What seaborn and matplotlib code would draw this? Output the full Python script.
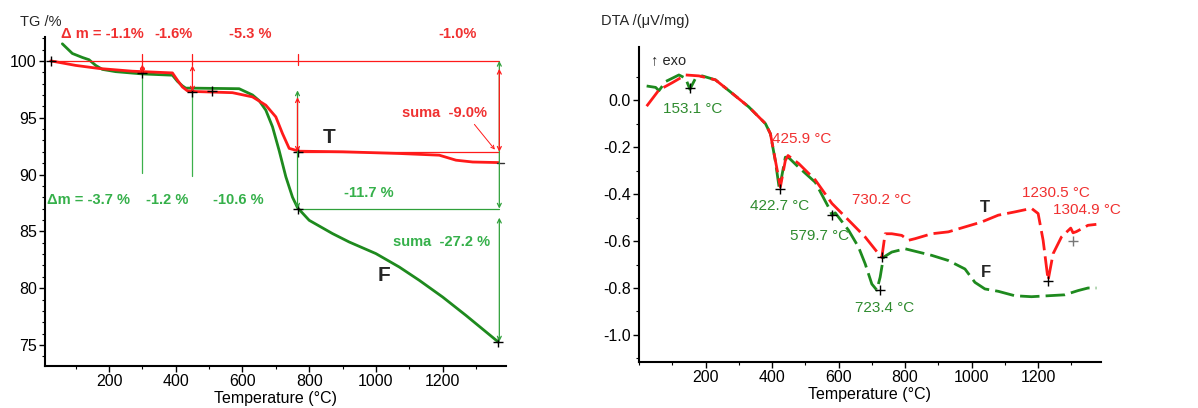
#!/usr/bin/env python3
"""TG and DTA curves of samples T and F, side by side."""

import seaborn as sns
import pandas as pd
import matplotlib.pyplot as plt
from matplotlib.ticker import MultipleLocator, FixedLocator

# TG curves (temperature in deg C, mass in %)
tg_T_temp = [25, 100, 170, 270, 390, 405, 420, 435, 460, 570, 630, 670, 700, 720, 740, 770,
             900, 1070, 1190, 1240, 1290, 1368]
tg_T_mass = [100.0, 99.6, 99.33, 99.09, 98.94, 98.3, 97.7, 97.36, 97.3, 97.2, 96.83, 96.1, 95.07,
             93.6, 92.3, 92.05, 92.0, 91.85, 91.7, 91.26, 91.1, 91.05]

tg_F_temp = [60, 90, 120, 140, 160, 180, 220, 300, 390, 405, 420, 430, 450, 590, 630, 650, 670,
             690, 710, 730, 750, 765, 800, 870, 920, 1000, 1070, 1130, 1200, 1270, 1367]
tg_F_mass = [101.5, 100.65, 100.3, 100.1, 99.6, 99.25, 99.05, 98.85, 98.74, 98.2, 97.8, 97.6, 97.6,
             97.55, 97.0, 96.5, 95.66, 94.2, 92.1, 89.8, 88.0, 87.08, 85.97, 84.8, 84.06, 83.04,
             81.86, 80.69, 79.22, 77.6, 75.26]

# DTA curves (uV/mg)
dta_T_temp = [23, 60, 100, 140, 180, 230, 280, 330, 380, 395, 410, 425, 440, 448, 480, 530, 580,
              630, 680, 720, 730, 740, 760, 790, 810, 830, 880, 930, 980, 1030, 1080, 1130, 1180,
              1200, 1215, 1230, 1245, 1270, 1298, 1305, 1315, 1350, 1375]
dta_T_val = [-0.026, 0.043, 0.074, 0.107, 0.103, 0.086, 0.029, -0.029, -0.1, -0.143, -0.257, -0.37,
             -0.257, -0.236, -0.27, -0.34, -0.44, -0.511, -0.583, -0.654, -0.67, -0.569, -0.569,
             -0.576, -0.597, -0.59, -0.569, -0.561, -0.54, -0.519, -0.49, -0.476, -0.461, -0.483,
             -0.597, -0.767, -0.654, -0.583, -0.545, -0.565, -0.56, -0.533, -0.529]

dta_F_temp = [23, 50, 60, 80, 120, 140, 153, 170, 190, 230, 280, 330, 380, 395, 410, 422, 440, 450,
              480, 530, 560, 575, 580, 590, 630, 660, 680, 700, 715, 725, 735, 760, 800, 840, 880,
              930, 980, 1010, 1040, 1080, 1130, 1180, 1230, 1280, 1320, 1350, 1375]
dta_F_val = [0.06, 0.054, 0.04, 0.079, 0.107, 0.093, 0.046, 0.093, 0.103, 0.086, 0.029, -0.029,
             -0.1, -0.143, -0.26, -0.379, -0.243, -0.245, -0.286, -0.35, -0.43, -0.47, -0.49,
             -0.48, -0.554, -0.626, -0.697, -0.783, -0.809, -0.754, -0.669, -0.647, -0.633,
             -0.647, -0.661, -0.683, -0.719, -0.776, -0.804, -0.814, -0.833, -0.837, -0.833,
             -0.829, -0.811, -0.8, -0.8]

# peak markers on DTA (temp, value)
dta_peaks_F = [(153.1, 0.05), (422.7, -0.38), (579.7, -0.49), (723.4, -0.81)]
dta_peaks_T = [(730.2, -0.67), (1230.5, -0.77)]

RED = "#ff1a1a"
RED_TXT = "#f03030"
GREEN = "#1e8a1e"
GREEN_TXT = "#35b04a"
GREEN_TXT2 = "#2e8b2e"

sns.set_theme(style="ticks")
plt.rcParams['font.family'] = ['Liberation Sans', 'DejaVu Sans']
NARROW = ['Liberation Sans Narrow', 'Liberation Sans', 'DejaVu Sans']

tg = pd.concat([pd.DataFrame({"Temperature": tg_T_temp, "TG": tg_T_mass, "sample": "T"}),
                pd.DataFrame({"Temperature": tg_F_temp, "TG": tg_F_mass, "sample": "F"})])
dta = pd.concat([pd.DataFrame({"Temperature": dta_T_temp, "DTA": dta_T_val, "sample": "T"}),
                 pd.DataFrame({"Temperature": dta_F_temp, "DTA": dta_F_val, "sample": "F"})])

fig = plt.figure(figsize=(11.98, 4.08), dpi=100)
ax1 = fig.add_axes([45 / 1198, 42 / 408, 461 / 1198, 329 / 408])
ax2 = fig.add_axes([639 / 1198, 46 / 408, 462 / 1198, 315 / 408])

# ---------------- TG ----------------
sns.lineplot(data=tg, x="Temperature", y="TG", hue="sample", palette={"T": RED, "F": GREEN},
             hue_order=["F", "T"], sort=False, estimator=None, lw=2, legend=False, ax=ax1)

thin = dict(lw=0.9)
ax1.plot([25, 1370], [100, 100], color=RED, **thin)
ax1.plot([765, 1370], [92.0, 92.0], color=RED, **thin)
ax1.plot([765, 1370], [87.0, 87.0], color="#2fa03a", **thin)
for t in [300, 450, 765]:
    ax1.plot([t, t], [100.6, 99.6], color=RED, **thin)
ax1.plot([300, 300], [98.5, 90.1], color="#3cb04a", **thin)
ax1.plot([450, 450], [97.2, 89.9], color="#3cb04a", **thin)


def arrow(ax, x, y0, y1, color):
    ax.annotate("", xy=(x, y1), xytext=(x, y0),
                arrowprops=dict(arrowstyle="<->", color=color, lw=0.9, shrinkA=0, shrinkB=0,
                                mutation_scale=7))


arrow(ax1, 765, 97.4, 87.0, "#2fa03a")
arrow(ax1, 765, 96.8, 92.0, RED)
arrow(ax1, 300, 99.7, 98.9, RED)
arrow(ax1, 450, 99.6, 97.3, RED)
arrow(ax1, 1370, 100, 87.0, "#2fa03a")
arrow(ax1, 1370, 99.3, 92.0, RED)
arrow(ax1, 1370, 86.2, 75.3, "#2fa03a")
ax1.annotate("", xy=(1362, 92.0), xytext=(1290, 94.6),
             arrowprops=dict(arrowstyle="->", color=RED, lw=0.7, mutation_scale=6))

ax1.plot([25, 300, 450, 510, 765, 765, 1367], [100, 98.9, 97.3, 97.35, 92.0, 87.0, 75.3],
         ls="none", marker="+", ms=7, mew=1, color="black")
ax1.plot([1362, 1385], [91.0, 91.0], color="#333333", lw=1)

tkw = dict(fontsize=10.5, fontweight="bold")
ax1.text(56, 102.4, "Δ m = -1.1%", color=RED_TXT, ha="left", va="center", **tkw)
ax1.text(392, 102.4, "-1.6%", color=RED_TXT, ha="center", va="center", **tkw)
ax1.text(623, 102.4, "-5.3 %", color=RED_TXT, ha="center", va="center", **tkw)
ax1.text(1244, 102.4, "-1.0%", color=RED_TXT, ha="center", va="center", **tkw)
ax1.text(1205, 95.4, "suma  -9.0%", color=RED_TXT, ha="center", va="center", **tkw)
ax1.text(14, 87.75, "Δm = -3.7 %", color=GREEN_TXT, ha="left", va="center", **tkw)
ax1.text(375, 87.75, "-1.2 %", color=GREEN_TXT, ha="center", va="center", **tkw)
ax1.text(587, 87.75, "-10.6 %", color=GREEN_TXT, ha="center", va="center", **tkw)
ax1.text(980, 88.4, "-11.7 %", color=GREEN_TXT, ha="center", va="center", **tkw)
ax1.text(1196, 84.1, "suma  -27.2 %", color=GREEN_TXT, ha="center", va="center", **tkw)
ax1.text(860, 93.3, "T", fontsize=15, fontweight="bold", ha="center", va="center")
ax1.text(1025, 81.1, "F", fontsize=15, fontweight="bold", ha="center", va="center")

ax1.set_xlim(8, 1390)
ax1.set_ylim(73.15, 102.1)
ax1.yaxis.set_major_locator(MultipleLocator(5))
ax1.yaxis.set_minor_locator(MultipleLocator(1))

# ---------------- DTA ----------------
sns.lineplot(data=dta, x="Temperature", y="DTA", hue="sample", palette={"T": RED, "F": GREEN},
             hue_order=["F", "T"], sort=False, estimator=None, lw=2, legend=False, ax=ax2,
             dashes=False)
for line in ax2.get_lines():
    line.set_dashes((7, 2.2))

ax2.plot([p[0] for p in dta_peaks_F + dta_peaks_T], [p[1] for p in dta_peaks_F + dta_peaks_T],
         ls="none", marker="+", ms=7, mew=1, color="black")
ax2.plot([1304.9], [-0.6], ls="none", marker="+", ms=7, mew=1, color="#777777")

lkw = dict(fontsize=11, ha="center", va="center", family=NARROW)
ax2.text(160, -0.04, "153.1 °C", color=GREEN_TXT2, **lkw)
ax2.text(489, -0.167, "425.9 °C", color=RED_TXT, **lkw)
ax2.text(423, -0.449, "422.7 °C", color=GREEN_TXT2, **lkw)
ax2.text(543, -0.577, "579.7 °C", color=GREEN_TXT2, **lkw)
ax2.text(729, -0.427, "730.2 °C", color=RED_TXT, **lkw)
ax2.text(738, -0.885, "723.4 °C", color=GREEN_TXT2, **lkw)
ax2.text(1254, -0.397, "1230.5 °C", color=RED_TXT, **lkw)
ax2.text(1347, -0.47, "1304.9 °C", color=RED_TXT, **lkw)
ax2.text(1041, -0.457, "T", fontsize=12, fontweight="bold", ha="center", va="center")
ax2.text(1044, -0.735, "F", fontsize=12, fontweight="bold", ha="center", va="center")
ax2.text(0.025, 0.959, "↑ exo", transform=ax2.transAxes, fontsize=10.5, ha="left", va="center")

ax2.set_xlim(0, 1389)
ax2.set_ylim(-1.115, 0.226)
ax2.yaxis.set_major_locator(FixedLocator([-1.0, -0.8, -0.6, -0.4, -0.2, 0.0]))
ax2.yaxis.set_minor_locator(FixedLocator([-1.1, -0.9, -0.7, -0.5, -0.3, -0.1, 0.1]))
ax2.yaxis.set_major_formatter(plt.FuncFormatter(lambda v, p: f"{v:.1f}".replace("-0.0", "0.0")))

for ax in (ax1, ax2):
    sns.despine(ax=ax)
    ax.xaxis.set_major_locator(MultipleLocator(200))
    ax.xaxis.set_minor_locator(MultipleLocator(100))
    ax.set_xticks([200, 400, 600, 800, 1000, 1200])
    ax.tick_params(which="major", direction="out", length=4, width=1, labelsize=11.5, pad=2,
                   color="black", labelcolor="black")
    ax.tick_params(which="minor", direction="out", length=2.5, width=0.8, color="black")
    ax.set_xlabel("Temperature (°C)", fontsize=11.5, labelpad=1, color="black")
    ax.set_ylabel("")
    for s in ("left", "bottom"):
        ax.spines[s].set_color("black")
        ax.spines[s].set_linewidth(1.5)

fig.text(20 / 1198, 1 - 22 / 408, "TG /%", fontsize=10.5, va="center")
fig.text(601 / 1198, 1 - 21 / 408, "DTA /(μV/mg)", fontsize=10.5, va="center")

fig.savefig("out.png", dpi=100)
